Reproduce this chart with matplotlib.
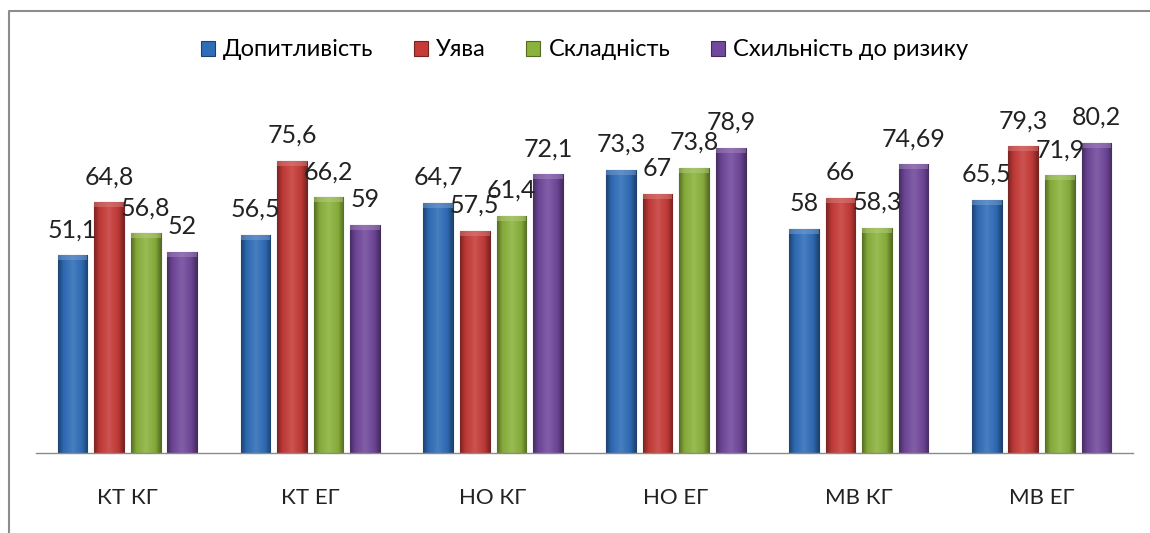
import numpy as np
import matplotlib
matplotlib.use("Agg")
import matplotlib.pyplot as plt
from matplotlib.colors import LinearSegmentedColormap, to_rgb
from matplotlib.lines import Line2D

categories = ["КТ КГ", "КТ ЕГ", "НО КГ", "НО ЕГ", "МВ КГ", "МВ ЕГ"]
series_names = ["Допитливість", "Уява", "Складність", "Схильність до ризику"]
dopytlyvist = [51.1, 56.5, 64.7, 73.3, 58, 65.5]
uyava = [64.8, 75.6, 57.5, 67, 66, 79.3]
skladnist = [56.8, 66.2, 61.4, 73.8, 58.3, 71.9]
skhylnist = [52, 59, 72.1, 78.9, 74.69, 80.2]
series = [dopytlyvist, uyava, skladnist, skhylnist]
colors = ["#2F6DB8", "#C63B38", "#8BB23C", "#71489C"]

plt.rcParams['font.family'] = ['Lato', 'DejaVu Sans']

fig = plt.figure(figsize=(11.5, 5.33), dpi=100)
ax = fig.add_axes([36/1150, 0.150, (1133-36)/1150, 0.653])

x = np.arange(len(categories))
width = 0.162
step = 0.2
offsets = [-1.5*step, -0.5*step, 0.5*step, 1.5*step]

def shade(c, f):
    r = np.array(to_rgb(c))
    if f < 1:
        return tuple(r*f)
    return tuple(r + (1-r)*(f-1))

grad = np.linspace(0, 1, 64).reshape(1, -1)
for vals, col, off, name in zip(series, colors, offsets, series_names):
    bars = ax.bar(x + off, vals, width, color=col, edgecolor=shade(col, 0.6),
                  linewidth=0.8, label=name, zorder=2)
    cmap = LinearSegmentedColormap.from_list(
        "g", [(0, shade(col, 0.62)), (0.18, shade(col, 0.95)),
              (0.5, shade(col, 1.12)), (0.82, shade(col, 0.95)), (1, shade(col, 0.62))])
    for b in bars:
        x0, w, h = b.get_x(), b.get_width(), b.get_height()
        im = ax.imshow(grad, extent=[x0, x0 + w, 0, h], aspect='auto',
                       cmap=cmap, zorder=2.5, interpolation='bilinear')
        im.set_clip_path(b)
        ax.fill_between([x0, x0 + w], h - 1.3, h, color=shade(col, 1.35),
                        alpha=0.5, zorder=2.6, linewidth=0)
    ax.bar_label(bars, labels=[f"{v}".replace('.', ',') for v in vals],
                 padding=10, fontsize=18, color="#222222", zorder=4)

ax.set_xlim(-0.5, len(categories) - 0.5)
ax.set_ylim(0, 90)
ax.set_xticks(x)
ax.set_xticklabels(categories, fontsize=16, color="#222222")
ax.tick_params(axis='x', length=0, pad=25)
ax.set_yticks([])
for s in ["top", "right", "left"]:
    ax.spines[s].set_visible(False)
ax.spines["bottom"].set_color("#8a8a8a")
ax.spines["bottom"].set_linewidth(1.0)

leg = ax.legend(loc="center", ncol=4, frameon=False, fontsize=17,
                handlelength=0.6, handleheight=0.6, handletextpad=0.35,
                columnspacing=1.7, borderaxespad=0)
leg.set_bbox_to_anchor((0.5, (1 - 50/533 - 0.150)/0.653), transform=ax.transAxes)

fig.add_artist(Line2D([8.5/1150, 8.5/1150, 1.0], [0, 1 - 11/533, 1 - 11/533],
                      transform=fig.transFigure, color="#8c8c8c", linewidth=1.5))

fig.savefig("out.png", dpi=100)
